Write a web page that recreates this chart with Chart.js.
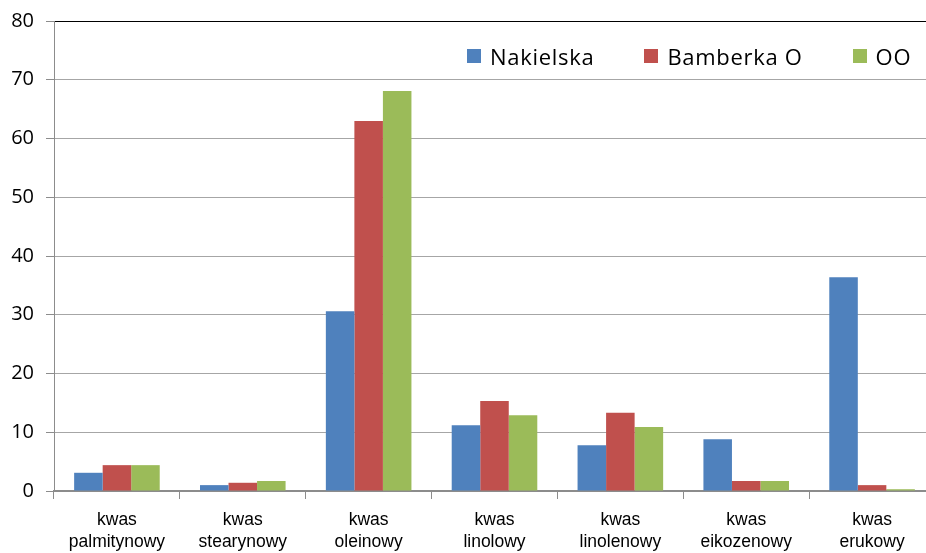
<!DOCTYPE html>
<html>
<head>
<meta charset="utf-8">
<script src="https://cdn.jsdelivr.net/npm/chart.js@4/dist/chart.umd.min.js"></script>
<style>
    html, body { margin: 0; padding: 0; background: #fff; }
    body { width: 926px; height: 553px; overflow: hidden; position: relative; }
    #wrap { position: absolute; left: 0; top: 0; width: 935px; height: 553px; }
    #legend {
        position: absolute; left: 467px; top: 41px;
        display: flex; align-items: center; white-space: nowrap;
        font-family: "Open Sans", sans-serif; font-size: 22px; letter-spacing: 0.7px; color: #000;
    }
    #legend .item { display: flex; align-items: center; margin-right: 50px; flex: none; }
    #legend .box { width: 14px; height: 14px; margin-right: 9px; flex: none; }
</style>
</head>
<body>
<div id="wrap"><canvas id="fatty-chart"></canvas></div>
<div id="legend"></div>
<script>
// kwasy tłuszczowe, udział w %
const categories = [
    ["kwas", "palmitynowy"],
    ["kwas", "stearynowy"],
    ["kwas", "oleinowy"],
    ["kwas", "linolowy"],
    ["kwas", "linolenowy"],
    ["kwas", "eikozenowy"],
    ["kwas", "erukowy"]
];
const seriesNames = ["Nakielska", "Bamberka O", "OO"];
const nakielska = [3.1, 1.0, 30.6, 11.2, 7.8, 8.8, 36.4];
const bamberka = [4.4, 1.4, 63.0, 15.3, 13.3, 1.7, 1.0];
const oo = [4.4, 1.7, 68.1, 12.9, 10.9, 1.7, 0.3];
const yTicks = [0, 10, 20, 30, 40, 50, 60, 70, 80];

const colors = ["#4F81BD", "#C0504D", "#9BBB59"];
const values = [nakielska, bamberka, oo];

let datasets = seriesNames.map((name, i) => ({
    label: name,
    data: values[i],
    backgroundColor: colors[i],
    borderWidth: 0,
    categoryPercentage: 0.68,
    barPercentage: 1.0
}));

// legend inside the plot, top right
let legendDiv = document.getElementById("legend");
seriesNames.forEach((name, i) => {
    let item = document.createElement("div");
    item.className = "item";
    item.innerHTML = `<span class="box" style="background:${colors[i]}"></span><span>${name}</span>`;
    legendDiv.appendChild(item);
});

let ctx = document.getElementById("fatty-chart").getContext("2d");
new Chart(ctx, {
    type: "bar",
    data: { labels: categories, datasets: datasets },
    options: {
        responsive: true,
        maintainAspectRatio: false,
        animation: false,
        layout: { padding: { top: 21, right: 0, bottom: 0, left: 0 } },
        plugins: { legend: { display: false }, tooltip: { enabled: false } },
        scales: {
            x: {
                grid: {
                    offset: true,
                    drawOnChartArea: false,
                    drawTicks: true,
                    tickLength: 8,
                    tickColor: "#8c8c8c"
                },
                border: { display: true, color: "#8c8c8c", width: 2 },
                ticks: {
                    color: "#000",
                    padding: 10,
                    maxRotation: 0,
                    autoSkip: false,
                    font: { family: "'Liberation Sans', Arial, sans-serif", size: 17.5, lineHeight: 1.27 }
                },
                afterFit: scale => { scale.height = 62; }
            },
            y: {
                min: 0,
                max: 80,
                afterBuildTicks: scale => { scale.ticks = yTicks.map(v => ({ value: v })); },
                grid: {
                    color: c => (c.tick && c.tick.value === 80 ? "#000" : "#a6a6a6"),
                    lineWidth: 1,
                    tickLength: 8,
                    tickColor: "#8c8c8c"
                },
                border: { display: true, color: "#8c8c8c", width: 1 },
                ticks: {
                    color: "#000",
                    padding: 12,
                    font: { family: "'Open Sans', sans-serif", size: 20, lineHeight: 0.8 }
                },
                afterFit: scale => { scale.width = 54; }
            }
        }
    }
});
</script>
</body>
</html>
